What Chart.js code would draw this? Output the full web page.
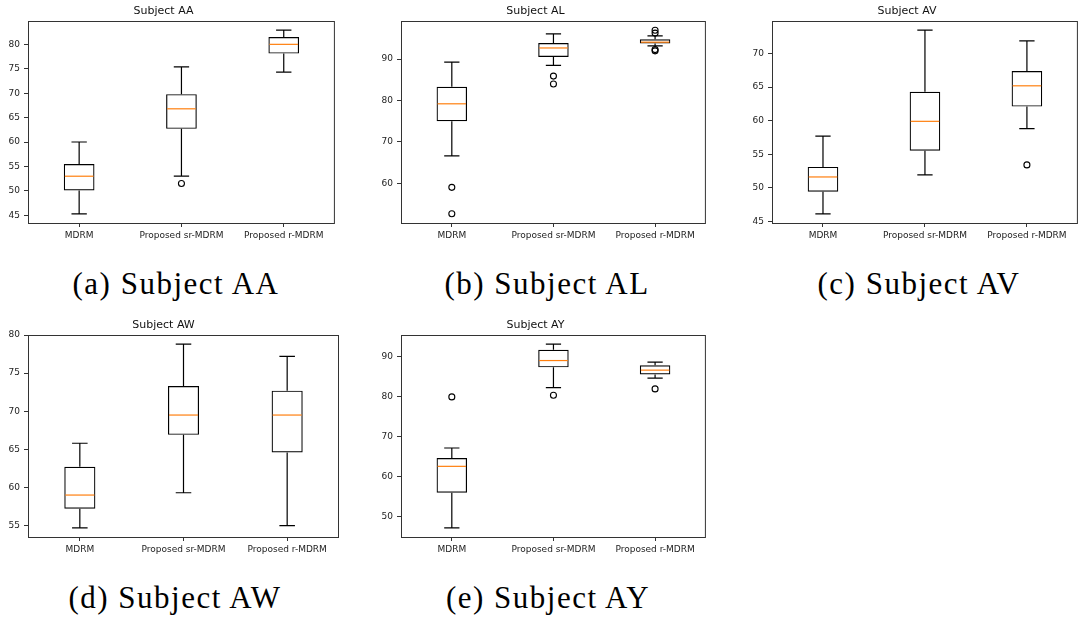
<!DOCTYPE html>
<html>
<head>
<meta charset="utf-8">
<title>Box plots per subject</title>
<script src="https://cdn.jsdelivr.net/npm/chart.js@4.4.1/dist/chart.umd.min.js"></script>
<style>
  html, body { margin: 0; padding: 0; background: #fff; }
  body { width: 1084px; height: 617px; position: relative; overflow: hidden; }
  canvas { position: absolute; }
  .caption {
    position: absolute;
    width: 320px;
    text-align: center;
    font-family: 'Liberation Serif', serif;
    font-size: 31px;
    line-height: 31px;
    letter-spacing: 1.5px;
    color: #000;
    white-space: nowrap;
  }
</style>
</head>
<body>
<canvas id="chart-aa"></canvas>
<canvas id="chart-al"></canvas>
<canvas id="chart-av"></canvas>
<canvas id="chart-aw"></canvas>
<canvas id="chart-ay"></canvas>
<div class="caption" style="left:16px;top:268px">(a) Subject AA</div>
<div class="caption" style="left:387px;top:268px">(b) Subject AL</div>
<div class="caption" style="left:759px;top:268px">(c) Subject AV</div>
<div class="caption" style="left:15px;top:582px">(d) Subject AW</div>
<div class="caption" style="left:388px;top:582px">(e) Subject AY</div>
<script>
const categories = ['MDRM', 'Proposed sr-MDRM', 'Proposed r-MDRM'];

// Subject AA
const aaLow = [45.3, 53.0, 74.3];
const aaQ1 = [50.1, 62.7, 78.1];
const aaMedian = [53.0, 66.8, 80.0];
const aaQ3 = [55.5, 69.8, 81.5];
const aaHigh = [60.0, 75.4, 82.9];
const aaOutliers = [[], [51.5], []];

// Subject AL
const alLow = [66.6, 88.5, 93.2];
const alQ1 = [75.0, 90.5, 93.8];
const alMedian = [79.2, 92.7, 94.1];
const alQ3 = [83.3, 93.9, 94.8];
const alHigh = [89.3, 96.1, 95.6];
const alOutliers = [[59.0, 52.6], [85.9, 84.0], [97.0, 96.3, 92.3, 92.0]];

// Subject AV
const avLow = [46.1, 51.9, 58.8];
const avQ1 = [49.4, 55.5, 62.1];
const avMedian = [51.6, 59.9, 65.2];
const avQ3 = [53.1, 64.3, 67.4];
const avHigh = [57.7, 73.5, 71.9];
const avOutliers = [[], [], [53.4]];

// Subject AW
const awLow = [54.7, 59.3, 55.0];
const awQ1 = [57.2, 66.9, 64.6];
const awMedian = [59.0, 69.5, 69.5];
const awQ3 = [62.7, 73.3, 72.7];
const awHigh = [65.8, 78.8, 77.2];
const awOutliers = [[], [], []];

// Subject AY
const ayLow = [47.2, 82.3, 84.7];
const ayQ1 = [56.0, 87.4, 85.6];
const ayMedian = [62.6, 89.1, 86.7];
const ayQ3 = [64.7, 91.8, 87.9];
const ayHigh = [67.2, 93.2, 88.7];
const ayOutliers = [[80.0], [80.4], [82.0]];

const BOX_LINE = '#000000';
const MEDIAN_COLOR = '#ff7f0e';
const FRAME_COLOR = '#333333';
const Y_AXIS_WIDTH = 40;
const X_AXIS_HEIGHT = 24;
const TITLE_SPACE = 21;

Chart.defaults.font.family = "'DejaVu Sans', sans-serif";
Chart.defaults.color = '#222';

function makeBoxPlugin(stats) {
  // whiskers, caps, medians and the axes frame, all placed with the chart's own scales
  return {
    id: 'boxWhiskers',
    afterDatasetsDraw(chart) {
      const { ctx, scales: { y } } = chart;
      const bars = chart.getDatasetMeta(0).data;
      ctx.save();
      ctx.lineWidth = 1.2;
      bars.forEach((bar, i) => {
        const x = bar.x;
        const half = bar.width / 2;
        const cap = half / 2;
        ctx.strokeStyle = BOX_LINE;
        ctx.beginPath();
        ctx.moveTo(x, y.getPixelForValue(stats.q3[i]));
        ctx.lineTo(x, y.getPixelForValue(stats.high[i]));
        ctx.moveTo(x - cap, y.getPixelForValue(stats.high[i]));
        ctx.lineTo(x + cap, y.getPixelForValue(stats.high[i]));
        ctx.moveTo(x, y.getPixelForValue(stats.q1[i]));
        ctx.lineTo(x, y.getPixelForValue(stats.low[i]));
        ctx.moveTo(x - cap, y.getPixelForValue(stats.low[i]));
        ctx.lineTo(x + cap, y.getPixelForValue(stats.low[i]));
        ctx.stroke();

        ctx.strokeStyle = MEDIAN_COLOR;
        ctx.beginPath();
        ctx.moveTo(x - half + 1, y.getPixelForValue(stats.median[i]));
        ctx.lineTo(x + half - 1, y.getPixelForValue(stats.median[i]));
        ctx.stroke();
      });
      ctx.restore();
    },
    afterDraw(chart) {
      const { ctx, chartArea: a } = chart;
      ctx.save();
      ctx.strokeStyle = FRAME_COLOR;
      ctx.lineWidth = 1;
      ctx.strokeRect(a.left + 0.5, a.top + 0.5, a.right - a.left - 1, a.bottom - a.top);
      ctx.restore();
    }
  };
}

function renderBoxChart(canvasId, title, frame, stats, outliers, step) {
  const canvas = document.getElementById(canvasId);
  const width = frame.right - frame.left + Y_AXIS_WIDTH + 1;
  const height = frame.bottom - frame.top + TITLE_SPACE + X_AXIS_HEIGHT;
  canvas.width = width;
  canvas.height = height;
  canvas.style.left = (frame.left - Y_AXIS_WIDTH) + 'px';
  canvas.style.top = (frame.top - TITLE_SPACE) + 'px';

  // matplotlib autoscale: 5% margin round the extreme values
  const allValues = stats.low.concat(stats.high, outliers.flat());
  const vMin = Math.min(...allValues);
  const vMax = Math.max(...allValues);
  const margin = (vMax - vMin) * 0.05;

  const outlierPoints = [];
  outliers.forEach((list, i) => list.forEach((v) => outlierPoints.push({ x: categories[i], y: v })));

  new Chart(canvas, {
    type: 'bar',
    data: {
      labels: categories,
      datasets: [{
        type: 'bar',
        data: stats.q1.map((q1, i) => [q1, stats.q3[i]]),
        backgroundColor: 'rgba(0,0,0,0)',
        borderColor: BOX_LINE,
        borderWidth: 1.2,
        borderSkipped: false,
        barPercentage: 0.3,
        categoryPercentage: 1
      }, {
        type: 'line',
        data: outlierPoints,
        showLine: false,
        pointStyle: 'circle',
        pointRadius: 3,
        pointBorderWidth: 1.1,
        pointBorderColor: BOX_LINE,
        pointBackgroundColor: 'rgba(0,0,0,0)'
      }]
    },
    options: {
      responsive: false,
      animation: false,
      devicePixelRatio: 1,
      layout: { padding: { left: 0, right: 1, top: 0, bottom: 0 } },
      plugins: {
        legend: { display: false },
        tooltip: { enabled: false },
        title: {
          display: true,
          text: title,
          color: '#111',
          font: { size: 11, weight: 'normal' },
          padding: { top: 5, bottom: 2.8 }
        }
      },
      scales: {
        x: {
          offset: true,
          grid: { offset: false, drawOnChartArea: false, drawTicks: true, tickLength: 4, color: FRAME_COLOR },
          border: { display: false },
          ticks: { font: { size: 9 }, padding: 3, maxRotation: 0, autoSkip: false },
          afterFit: (scale) => { scale.height = X_AXIS_HEIGHT; }
        },
        y: {
          min: vMin - margin,
          max: vMax + margin,
          grid: { drawOnChartArea: false, drawTicks: true, tickLength: 4, color: FRAME_COLOR },
          border: { display: false },
          ticks: { stepSize: step, includeBounds: false, font: { size: 9 }, padding: 4 },
          afterFit: (scale) => { scale.width = Y_AXIS_WIDTH; }
        }
      }
    },
    plugins: [makeBoxPlugin(stats)]
  });
}

renderBoxChart('chart-aa', 'Subject AA', { left: 28, top: 21, right: 339, bottom: 223 },
  { low: aaLow, q1: aaQ1, median: aaMedian, q3: aaQ3, high: aaHigh }, aaOutliers, 5);
renderBoxChart('chart-al', 'Subject AL', { left: 401, top: 21, right: 710, bottom: 223 },
  { low: alLow, q1: alQ1, median: alMedian, q3: alQ3, high: alHigh }, alOutliers, 10);
renderBoxChart('chart-av', 'Subject AV', { left: 772, top: 21, right: 1082, bottom: 223 },
  { low: avLow, q1: avQ1, median: avMedian, q3: avQ3, high: avHigh }, avOutliers, 5);
renderBoxChart('chart-aw', 'Subject AW', { left: 28, top: 335, right: 339, bottom: 537 },
  { low: awLow, q1: awQ1, median: awMedian, q3: awQ3, high: awHigh }, awOutliers, 5);
renderBoxChart('chart-ay', 'Subject AY', { left: 401, top: 335, right: 710, bottom: 537 },
  { low: ayLow, q1: ayQ1, median: ayMedian, q3: ayQ3, high: ayHigh }, ayOutliers, 10);
</script>
</body>
</html>
